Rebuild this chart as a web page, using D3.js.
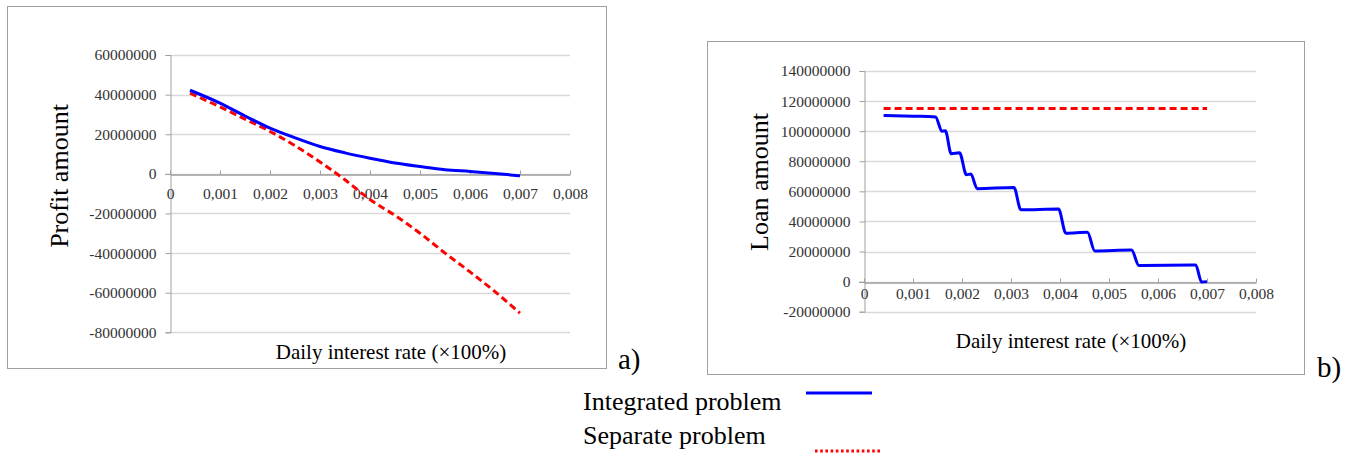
<!DOCTYPE html>
<html>
<head>
<meta charset="utf-8">
<script src="https://cdn.jsdelivr.net/npm/d3@7"></script>
<style>
  html, body {margin: 0; padding: 0; background: #fff;}
  svg text {font-family: 'Liberation Serif', 'Times New Roman', serif;}
</style>
</head>
<body>
<svg id="chart" width="1357" height="455"></svg>
<script>
// x values: daily interest rate
const rateTicks = [0, 0.001, 0.002, 0.003, 0.004, 0.005, 0.006, 0.007, 0.008];

// a) profit amount
const profitTicks = [60000000, 40000000, 20000000, 0, -20000000, -40000000, -60000000, -80000000];
const profitRates = [0.0004, 0.001, 0.0015, 0.002, 0.0025, 0.003, 0.0035, 0.004, 0.0045, 0.005, 0.0055, 0.006, 0.0065, 0.007];
const profitIntegrated = [42200000, 35700000, 29200000, 23100000, 18200000, 13800000, 10600000, 7900000, 5500000, 3700000, 2100000, 1200000, 200000, -1000000];
const profitSeparate = [40700000, 33800000, 27600000, 21400000, 14200000, 6000000, -3000000, -13000000, -21000000, -30000000, -40000000, -49500000, -59500000, -70300000];

// b) loan amount
const loanTicks = [140000000, 120000000, 100000000, 80000000, 60000000, 40000000, 20000000, 0, -20000000];
const loanRatesIntegrated = [0.0004, 0.001, 0.00146, 0.00159, 0.00166, 0.00178, 0.00195, 0.00209, 0.00218, 0.00231, 0.00306, 0.0032, 0.00397, 0.00412, 0.00456, 0.00471, 0.00546, 0.00561, 0.00677, 0.00689, 0.007];
const loanIntegrated = [110500000, 110000000, 109500000, 100000000, 100200000, 85000000, 85600000, 71100000, 71500000, 61800000, 62600000, 47800000, 48200000, 32200000, 32800000, 20400000, 21000000, 10700000, 11000000, -300000, 0];
const loanRatesSeparate = [0.0004, 0.007];
const loanSeparate = [115000000, 115000000];

const legendLabels = ['Integrated problem', 'Separate problem'];

const svg = d3.select('#chart');

const blue = '#0000ff';
const red = '#ff0000';
const serif = "'Liberation Serif', 'Times New Roman', serif";

function drawChart(cfg) {
  const g = svg.append('g');

  g.append('rect')
    .attr('x', cfg.frame[0] + 0.5)
    .attr('y', cfg.frame[1] + 0.5)
    .attr('width', cfg.frame[2] - cfg.frame[0])
    .attr('height', cfg.frame[3] - cfg.frame[1])
    .attr('fill', 'none')
    .attr('stroke', '#a0a0a0')
    .attr('stroke-width', 1);

  const x = d3.scaleLinear().domain([0, 0.008]).range(cfg.xRange);
  const y = d3.scaleLinear().domain(cfg.yDomain).range(cfg.yRange);

  // gridlines
  g.append('g')
    .selectAll('line')
    .data(cfg.yTicks)
    .enter()
    .append('line')
    .attr('x1', x(0))
    .attr('x2', x(0.008))
    .attr('y1', d => Math.round(y(d)) + 0.5)
    .attr('y2', d => Math.round(y(d)) + 0.5)
    .attr('stroke', '#d9d9d9')
    .attr('stroke-width', 1.3);

  // y axis
  const yAxis = g.append('g')
    .attr('transform', `translate(${Math.round(x(0)) + 0.5},0)`)
    .call(d3.axisLeft(y).tickValues(cfg.yTicks).tickSize(5).tickPadding(9)
      .tickFormat(d => d3.format('d')(d).replace('−', '-')));
  yAxis.attr('font-family', serif);
  yAxis.select('.domain').attr('stroke', '#a0a0a0');
  yAxis.selectAll('.tick line').attr('stroke', '#a0a0a0');
  yAxis.selectAll('text')
    .attr('font-family', serif)
    .attr('font-size', 15.5)
    .attr('fill', '#333');

  // x axis sits on zero
  const xAxis = g.append('g')
    .attr('transform', `translate(0,${Math.round(y(0)) + 0.5})`)
    .call(d3.axisTop(x).tickValues(rateTicks).tickSize(4).tickSizeOuter(0)
      .tickFormat(d => (d === 0 ? '0' : d3.format('.3f')(d).replace('.', ','))));
  xAxis.attr('font-family', serif);
  xAxis.select('.domain').attr('stroke', '#a0a0a0').attr('stroke-width', 1.3);
  xAxis.selectAll('.tick line').attr('stroke', '#a0a0a0');
  xAxis.selectAll('text')
    .attr('font-family', serif)
    .attr('font-size', 15.5)
    .attr('fill', '#333')
    .attr('dy', null)
    .attr('y', cfg.xLabelBase - Math.round(y(0)));

  // extend x axis a bit left of y axis
  g.append('line')
    .attr('x1', x(0) - 5)
    .attr('x2', x(0))
    .attr('y1', Math.round(y(0)) + 0.5)
    .attr('y2', Math.round(y(0)) + 0.5)
    .attr('stroke', '#a0a0a0');

  const line = d3.line()
    .x(d => x(d[0]))
    .y(d => y(d[1]))
    .curve(d3.curveMonotoneX);

  g.append('path')
    .datum(d3.zip(cfg.sepRates, cfg.sepValues))
    .attr('d', line)
    .attr('fill', 'none')
    .attr('stroke', red)
    .attr('stroke-width', 3)
    .attr('stroke-dasharray', '7,4');

  g.append('path')
    .datum(d3.zip(cfg.intRates, cfg.intValues))
    .attr('d', line)
    .attr('fill', 'none')
    .attr('stroke', blue)
    .attr('stroke-width', 3)
    .attr('stroke-linejoin', 'round');

  g.append('text')
    .attr('x', cfg.xTitle[0])
    .attr('y', cfg.xTitle[1])
    .attr('text-anchor', 'middle')
    .attr('font-size', 21)
    .attr('fill', '#000')
    .text('Daily interest rate (×100%)');

  g.append('text')
    .attr('transform', `translate(${cfg.yTitle[0]},${cfg.yTitle[1]}) rotate(-90)`)
    .attr('text-anchor', 'middle')
    .attr('font-size', 26)
    .attr('fill', '#000')
    .text(cfg.yLabel);

  g.append('text')
    .attr('x', cfg.tag[0])
    .attr('y', cfg.tag[1])
    .attr('font-size', 29)
    .attr('fill', '#000')
    .text(cfg.tagText);
}

drawChart({
  frame: [7, 6, 606, 368],
  xRange: [170, 570],
  yDomain: [-80000000, 60000000],
  yRange: [332.3, 55],
  yTicks: profitTicks,
  xLabelBase: 198,
  intRates: profitRates,
  intValues: profitIntegrated,
  sepRates: profitRates,
  sepValues: profitSeparate,
  xTitle: [391, 359],
  yTitle: [68, 176],
  yLabel: 'Profit amount',
  tag: [618, 369],
  tagText: 'a)'
});

drawChart({
  frame: [707, 41, 1304, 374],
  xRange: [864, 1256],
  yDomain: [-20000000, 140000000],
  yRange: [311.7, 71],
  yTicks: loanTicks,
  xLabelBase: 298.5,
  intRates: loanRatesIntegrated,
  intValues: loanIntegrated,
  sepRates: loanRatesSeparate,
  sepValues: loanSeparate,
  xTitle: [1071, 348],
  yTitle: [768, 182],
  yLabel: 'Loan amount',
  tag: [1317, 377],
  tagText: 'b)'
});

// legend
const legend = svg.append('g');
const legendRows = [
  {label: legendLabels[0], ty: 410, lx: [806, 872], ly: 393, color: blue, dash: null},
  {label: legendLabels[1], ty: 444, lx: [815, 881], ly: 451, color: red, dash: '2.6,2.6'}
];
legendRows.forEach((r) => {
  legend.append('text')
    .attr('x', 583)
    .attr('y', r.ty)
    .attr('font-size', 26)
    .attr('fill', '#000')
    .text(r.label);
  legend.append('line')
    .attr('x1', r.lx[0])
    .attr('x2', r.lx[1])
    .attr('y1', r.ly)
    .attr('y2', r.ly)
    .attr('stroke', r.color)
    .attr('stroke-width', 3)
    .attr('stroke-dasharray', r.dash);
});
</script>
</body>
</html>
